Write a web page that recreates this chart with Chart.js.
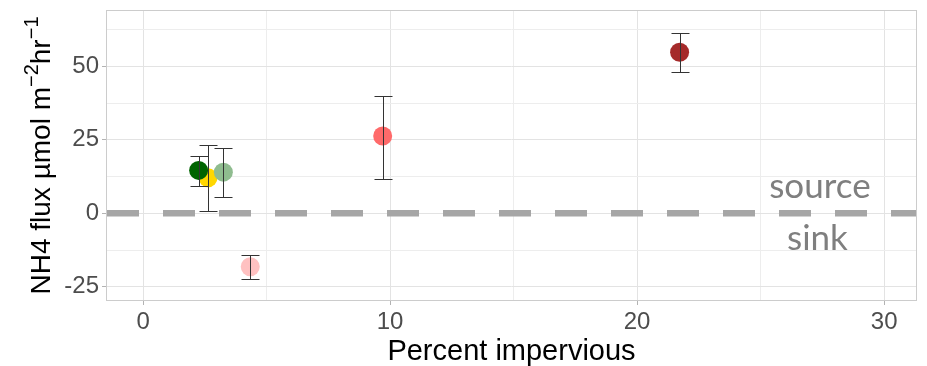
<!DOCTYPE html>
<html>
<head>
<meta charset="utf-8">
<script src="https://cdn.jsdelivr.net/npm/chart.js@4/dist/chart.umd.min.js"></script>
<style>
  html, body { margin: 0; padding: 0; background: #fff; }
  #wrap { width: 927px; height: 366px; }
</style>
</head>
<body>
<div id="wrap"><canvas id="flux-chart"></canvas></div>
<script>
// site values (drawing order: later ones on top)
var pctImpervious = [4.34, 2.63, 2.25, 3.25, 9.7, 21.72];
var fluxMean      = [-18.2, 12.1, 14.6, 14.0, 26.3, 54.8];
var fluxLow       = [-22.3, 0.9, 9.2, 5.5, 11.8, 48.0];
var fluxHigh      = [-14.2, 23.2, 19.5, 22.1, 40.0, 61.4];
var siteColors    = ['#ffc1c1', '#ffd700', '#006400', '#8fbc8f', '#ff6a6a', '#a52a2a'];

// axes
var xTicks = [0, 5, 10, 15, 20, 25, 30];
var yTicks = [-25, -12.5, 0, 12.5, 25, 37.5, 50, 62.5];
var xLabelEvery = 10;
var yLabelEvery = 25;
var xRange = [-1.5, 31.33];
var yRange = [-29.83, 69.15];

// source / sink annotation
var noteText = ['source', 'sink'];
var noteX    = [27.4, 27.3];
var noteY    = [5.1, -12.5];

var points = pctImpervious.map(function (x, i) {
  return { x: x, y: fluxMean[i] };
});

function isMajor(v, every) {
  return Math.abs(v / every - Math.round(v / every)) < 1e-6;
}

// dashed zero line, panel border and notes under the points
var underlay = {
  id: 'underlay',
  beforeDatasetsDraw: function (chart) {
    var ctx = chart.ctx, a = chart.chartArea;
    var y0 = chart.scales.y.getPixelForValue(0);
    ctx.save();
    ctx.strokeStyle = '#cccccc';
    ctx.lineWidth = 1;
    ctx.strokeRect(a.left + 0.5, a.top + 0.5, a.right - a.left - 1, a.bottom - a.top - 1);

    ctx.beginPath();
    ctx.setLineDash([32, 24]);
    ctx.strokeStyle = '#a6a6a6';
    ctx.lineWidth = 6.5;
    ctx.moveTo(a.left + 1, y0);
    ctx.lineTo(a.right - 1, y0);
    ctx.stroke();
    ctx.setLineDash([]);

    ctx.fillStyle = '#7f7f7f';
    ctx.font = '35px Lato';
    ctx.textAlign = 'center';
    ctx.textBaseline = 'alphabetic';
    noteText.forEach(function (t, i) {
      ctx.fillText(t, chart.scales.x.getPixelForValue(noteX[i]), chart.scales.y.getPixelForValue(noteY[i]));
    });
    ctx.restore();
  }
};

// error bars on top of the points
var errorBars = {
  id: 'errorBars',
  afterDatasetsDraw: function (chart) {
    var ctx = chart.ctx, xs = chart.scales.x, ys = chart.scales.y;
    var half = 9;
    ctx.save();
    ctx.strokeStyle = '#333333';
    ctx.lineWidth = 1;
    pctImpervious.forEach(function (x, i) {
      var px = Math.round(xs.getPixelForValue(x)) + 0.5;
      var lo = Math.round(ys.getPixelForValue(fluxLow[i])) + 0.5;
      var hi = Math.round(ys.getPixelForValue(fluxHigh[i])) + 0.5;
      ctx.beginPath();
      ctx.moveTo(px, lo); ctx.lineTo(px, hi);
      ctx.moveTo(px - half, lo); ctx.lineTo(px + half, lo);
      ctx.moveTo(px - half, hi); ctx.lineTo(px + half, hi);
      ctx.stroke();
    });
    ctx.restore();
  }
};

// axis titles (y title has superscripts)
var axisTitles = {
  id: 'axisTitles',
  afterDraw: function (chart) {
    var ctx = chart.ctx, a = chart.chartArea;
    ctx.save();
    ctx.fillStyle = '#000';
    ctx.textBaseline = 'alphabetic';
    ctx.font = '29px "Liberation Sans"';
    ctx.textAlign = 'center';
    ctx.fillText('Percent impervious', (a.left + a.right) / 2, 360);

    var parts = [
      { t: 'NH4 flux \u00b5mol m', sup: false },
      { t: '\u22122', sup: true },
      { t: 'hr', sup: false },
      { t: '\u22121', sup: true }
    ];
    var mainFont = '28px "Liberation Sans"', supFont = '20px "Liberation Sans"';
    var total = 0;
    parts.forEach(function (p) {
      ctx.font = p.sup ? supFont : mainFont;
      p.w = ctx.measureText(p.t).width;
      total += p.w;
    });
    ctx.translate(50, (a.top + a.bottom) / 2);
    ctx.rotate(-Math.PI / 2);
    ctx.textAlign = 'left';
    var cx = -total / 2;
    parts.forEach(function (p) {
      ctx.font = p.sup ? supFont : mainFont;
      ctx.fillText(p.t, cx, p.sup ? -12 : 0);
      cx += p.w;
    });
    ctx.restore();
  }
};

var tickFont = { family: '"Liberation Sans"', size: 24 };

function fixPad(axis) {
  axis.paddingTop = 0;
  axis.paddingBottom = 0;
  axis.paddingLeft = 0;
  axis.paddingRight = 0;
}

new Chart(document.getElementById('flux-chart'), {
  type: 'scatter',
  data: {
    datasets: [{
      data: points,
      backgroundColor: siteColors,
      borderWidth: 0,
      pointRadius: 9.5,
      pointHoverRadius: 9.5
    }]
  },
  options: {
    responsive: true,
    maintainAspectRatio: false,
    animation: false,
    layout: { autoPadding: false, padding: { top: 10, right: 10, left: 0, bottom: 0 } },
    plugins: { legend: { display: false }, tooltip: { enabled: false } },
    scales: {
      x: {
        type: 'linear',
        min: xRange[0],
        max: xRange[1],
        afterBuildTicks: function (axis) {
          axis.ticks = xTicks.map(function (v) { return { value: v }; });
        },
        afterFit: function (axis) { axis.height = 65; fixPad(axis); },
        border: { display: false },
        grid: {
          color: function (c) { return isMajor(c.tick.value, xLabelEvery) ? '#e3e3e3' : '#ededed'; },
          tickColor: function (c) { return isMajor(c.tick.value, xLabelEvery) ? '#b3b3b3' : 'rgba(0,0,0,0)'; },
          tickLength: 4,
          lineWidth: 1
        },
        ticks: {
          autoSkip: false,
          maxRotation: 0,
          padding: 3,
          color: '#4d4d4d',
          font: tickFont,
          callback: function (v) { return isMajor(v, xLabelEvery) ? String(v) : ''; }
        }
      },
      y: {
        type: 'linear',
        min: yRange[0],
        max: yRange[1],
        afterBuildTicks: function (axis) {
          axis.ticks = yTicks.map(function (v) { return { value: v }; });
        },
        afterFit: function (axis) { axis.width = 106; fixPad(axis); },
        border: { display: false },
        grid: {
          color: function (c) { return isMajor(c.tick.value, yLabelEvery) ? '#e3e3e3' : '#ededed'; },
          tickColor: function (c) { return isMajor(c.tick.value, yLabelEvery) ? '#b3b3b3' : 'rgba(0,0,0,0)'; },
          tickLength: 4,
          lineWidth: 1
        },
        ticks: {
          autoSkip: false,
          padding: 3,
          color: '#4d4d4d',
          font: tickFont,
          callback: function (v) { return isMajor(v, yLabelEvery) ? String(v) : ''; }
        }
      }
    }
  },
  plugins: [underlay, errorBars, axisTitles]
});
</script>
</body>
</html>
